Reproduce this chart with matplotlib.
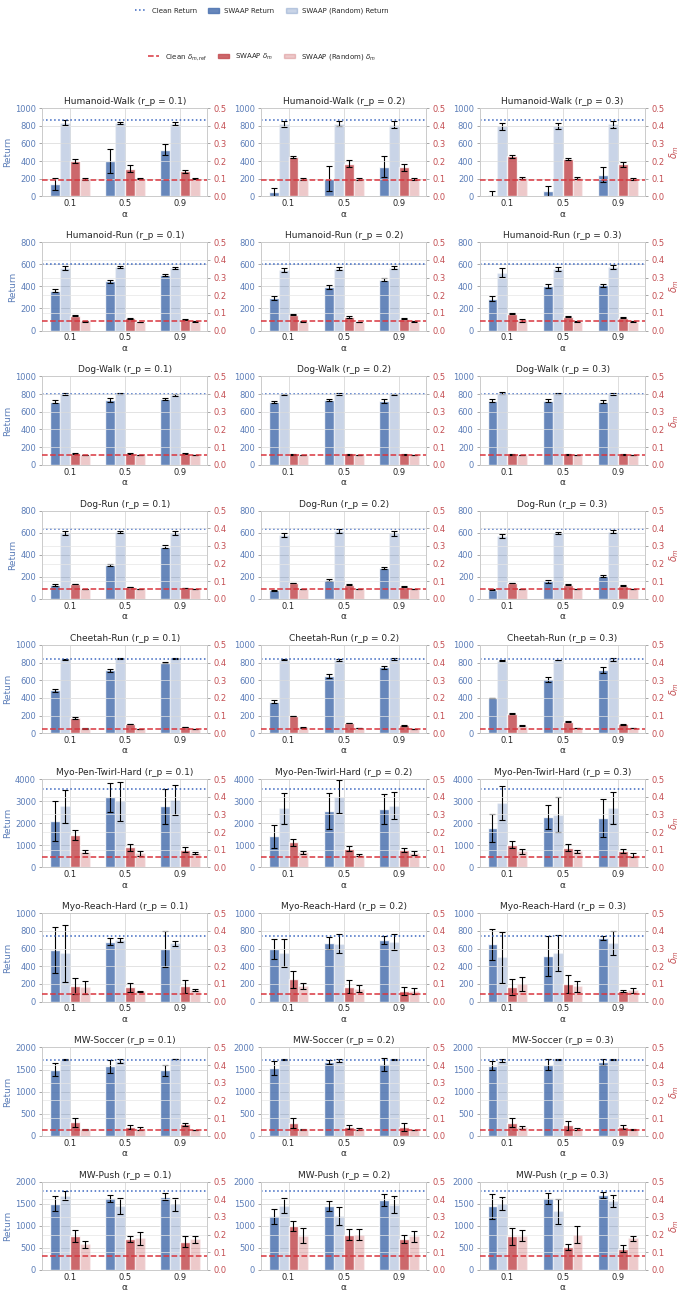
import numpy as np
import matplotlib.pyplot as plt
import seaborn as sns
from matplotlib.lines import Line2D
from matplotlib.patches import Patch

sns.set_theme(style="whitegrid")
plt.rcParams['font.family'] = ['DejaVu Sans']

BLUE = '#4C72B0'
RED = '#C44E52'

tasks = ['Humanoid-Walk', 'Humanoid-Run', 'Dog-Walk', 'Dog-Run', 'Cheetah-Run',
         'Myo-Pen-Twirl-Hard', 'Myo-Reach-Hard', 'MW-Soccer', 'MW-Push']
rps = [0.1, 0.2, 0.3]
alphas = ['0.1', '0.5', '0.9']
ret_max = [1000, 800, 1000, 800, 1000, 4000, 1000, 2000, 2000]
clean_ret = [868, 605, 800, 630, 835, 3560, 740, 1725, 1787]
clean_delta = [0.092, 0.052, 0.056, 0.055, 0.025, 0.057, 0.042, 0.032, 0.08]

# one row per r_p, one value per alpha
swaap_ret = {
    'Humanoid-Walk': [[143, 396, 528], [49, 200, 335], [19, 57, 245]],
    'Humanoid-Run': [[360, 445, 505], [295, 395, 460], [290, 405, 410]],
    'Dog-Walk': [[715, 735, 745], [710, 730, 720], [725, 725, 715]],
    'Dog-Run': [[125, 310, 475], [80, 170, 280], [85, 160, 210]],
    'Cheetah-Run': [[485, 710, 800], [355, 650, 745], [398, 610, 715]],
    'Myo-Pen-Twirl-Hard': [[2100, 3180, 2760], [1400, 2560, 2640], [1790, 2280, 2240]],
    'Myo-Reach-Hard': [[583, 680, 595], [595, 665, 697], [651, 515, 720]],
    'MW-Soccer': [[1500, 1570, 1480], [1530, 1667, 1615], [1590, 1610, 1667]],
    'MW-Push': [[1505, 1620, 1658], [1220, 1450, 1590], [1440, 1620, 1700]],
}
swaap_ret_err = {
    'Humanoid-Walk': [[70, 135, 60], [45, 140, 120], [40, 60, 85]],
    'Humanoid-Run': [[15, 12, 12], [15, 20, 12], [20, 15, 15]],
    'Dog-Walk': [[15, 20, 15], [15, 12, 20], [15, 15, 20]],
    'Dog-Run': [[8, 10, 15], [5, 8, 10], [5, 12, 10]],
    'Cheetah-Run': [[15, 12, 5], [18, 20, 15], [5, 25, 35]],
    'Myo-Pen-Twirl-Hard': [[900, 650, 800], [530, 800, 680], [650, 550, 850]],
    'Myo-Reach-Hard': [[265, 40, 200], [115, 70, 45], [175, 230, 25]],
    'MW-Soccer': [[150, 140, 115], [160, 45, 145], [100, 125, 70]],
    'MW-Push': [[180, 85, 80], [170, 120, 130], [280, 120, 60]],
}
rand_ret = {
    'Humanoid-Walk': [[834, 834, 823], [823, 823, 811], [796, 796, 819]],
    'Humanoid-Run': [[565, 578, 568], [550, 560, 570], [525, 560, 575]],
    'Dog-Walk': [[800, 810, 790], [800, 800, 800], [815, 810, 800]],
    'Dog-Run': [[600, 610, 600], [580, 615, 595], [570, 595, 610]],
    'Cheetah-Run': [[835, 845, 850], [832, 830, 840], [820, 830, 835]],
    'Myo-Pen-Twirl-Hard': [[2760, 2990, 3050], [2680, 3200, 2800], [2920, 2390, 2700]],
    'Myo-Reach-Hard': [[545, 697, 660], [550, 655, 670], [500, 550, 665]],
    'MW-Soccer': [[1727, 1690, 1735], [1725, 1705, 1725], [1705, 1725, 1725]],
    'MW-Push': [[1680, 1452, 1490], [1460, 1230, 1480], [1500, 1330, 1560]],
}
rand_ret_err = {
    'Humanoid-Walk': [[30, 12, 20], [35, 25, 40], [40, 30, 40]],
    'Humanoid-Run': [[20, 8, 10], [20, 15, 15], [40, 20, 15]],
    'Dog-Walk': [[8, 6, 8], [5, 8, 6], [10, 8, 12]],
    'Dog-Run': [[20, 10, 20], [15, 15, 20], [20, 10, 15]],
    'Cheetah-Run': [[5, 3, 5], [3, 12, 8], [8, 3, 18]],
    'Myo-Pen-Twirl-Hard': [[750, 870, 660], [700, 750, 620], [780, 800, 730]],
    'Myo-Reach-Hard': [[320, 25, 25], [160, 110, 90], [290, 200, 135]],
    'MW-Soccer': [[5, 45, 5], [5, 35, 10], [35, 5, 5]],
    'MW-Push': [[105, 180, 150], [160, 200, 200], [150, 280, 130]],
}
swaap_d = {
    'Humanoid-Walk': [[0.198, 0.157, 0.142], [0.223, 0.185, 0.166], [0.226, 0.213, 0.181]],
    'Humanoid-Run': [[0.085, 0.070, 0.062], [0.090, 0.076, 0.066], [0.095, 0.078, 0.073]],
    'Dog-Walk': [[0.063, 0.063, 0.062], [0.060, 0.060, 0.060], [0.060, 0.060, 0.060]],
    'Dog-Run': [[0.085, 0.068, 0.062], [0.090, 0.080, 0.070], [0.090, 0.080, 0.075]],
    'Cheetah-Run': [[0.085, 0.052, 0.035], [0.097, 0.058, 0.045], [0.110, 0.065, 0.050]],
    'Myo-Pen-Twirl-Hard': [[0.183, 0.113, 0.100], [0.142, 0.106, 0.098], [0.128, 0.110, 0.092]],
    'Myo-Reach-Hard': [[0.087, 0.080, 0.087], [0.125, 0.085, 0.060], [0.080, 0.098, 0.060]],
    'MW-Soccer': [[0.076, 0.051, 0.064], [0.072, 0.049, 0.051], [0.074, 0.060, 0.051]],
    'MW-Push': [[0.192, 0.173, 0.160], [0.250, 0.200, 0.175], [0.190, 0.130, 0.120]],
}
swaap_d_err = {
    'Humanoid-Walk': [[0.011, 0.020, 0.007], [0.008, 0.020, 0.020], [0.006, 0.007, 0.012]],
    'Humanoid-Run': [[0.004, 0.003, 0.003], [0.003, 0.004, 0.003], [0.003, 0.003, 0.003]],
    'Dog-Walk': [[0.002, 0.002, 0.002], [0.002, 0.002, 0.002], [0.002, 0.002, 0.002]],
    'Dog-Run': [[0.002, 0.002, 0.002], [0.002, 0.002, 0.002], [0.002, 0.002, 0.002]],
    'Cheetah-Run': [[0.005, 0.002, 0.002], [0.002, 0.002, 0.002], [0.002, 0.003, 0.004]],
    'Myo-Pen-Twirl-Hard': [[0.026, 0.020, 0.013], [0.020, 0.015, 0.012], [0.020, 0.020, 0.012]],
    'Myo-Reach-Hard': [[0.045, 0.023, 0.037], [0.050, 0.035, 0.020], [0.045, 0.050, 0.008]],
    'MW-Soccer': [[0.025, 0.012, 0.008], [0.030, 0.010, 0.023], [0.025, 0.025, 0.012]],
    'MW-Push': [[0.036, 0.017, 0.030], [0.030, 0.030, 0.025], [0.050, 0.015, 0.020]],
}
rand_d = {
    'Humanoid-Walk': [[0.100, 0.100, 0.100], [0.100, 0.100, 0.100], [0.104, 0.104, 0.100]],
    'Humanoid-Run': [[0.052, 0.048, 0.050], [0.050, 0.048, 0.050], [0.058, 0.050, 0.050]],
    'Dog-Walk': [[0.055, 0.055, 0.055], [0.055, 0.055, 0.055], [0.055, 0.055, 0.055]],
    'Dog-Run': [[0.055, 0.055, 0.055], [0.055, 0.055, 0.055], [0.055, 0.055, 0.055]],
    'Cheetah-Run': [[0.027, 0.025, 0.024], [0.033, 0.029, 0.025], [0.042, 0.030, 0.029]],
    'Myo-Pen-Twirl-Hard': [[0.089, 0.079, 0.079], [0.085, 0.070, 0.081], [0.090, 0.090, 0.072]],
    'Myo-Reach-Hard': [[0.081, 0.059, 0.066], [0.089, 0.074, 0.060], [0.100, 0.087, 0.063]],
    'MW-Soccer': [[0.036, 0.040, 0.032], [0.036, 0.038, 0.032], [0.047, 0.038, 0.036]],
    'MW-Push': [[0.145, 0.179, 0.173], [0.195, 0.200, 0.190], [0.195, 0.200, 0.180]],
}
rand_d_err = {
    'Humanoid-Walk': [[0.005, 0.002, 0.002], [0.005, 0.005, 0.005], [0.004, 0.004, 0.005]],
    'Humanoid-Run': [[0.003, 0.002, 0.002], [0.003, 0.002, 0.002], [0.008, 0.003, 0.002]],
    'Dog-Walk': [[0.001, 0.001, 0.001], [0.001, 0.001, 0.001], [0.001, 0.001, 0.001]],
    'Dog-Run': [[0.001, 0.001, 0.001], [0.001, 0.001, 0.001], [0.001, 0.001, 0.001]],
    'Cheetah-Run': [[0.001, 0.001, 0.001], [0.002, 0.002, 0.001], [0.002, 0.001, 0.001]],
    'Myo-Pen-Twirl-Hard': [[0.010, 0.013, 0.006], [0.010, 0.008, 0.012], [0.015, 0.010, 0.012]],
    'Myo-Reach-Hard': [[0.038, 0.003, 0.006], [0.018, 0.018, 0.015], [0.040, 0.030, 0.015]],
    'MW-Soccer': [[0.003, 0.010, 0.002], [0.003, 0.008, 0.002], [0.010, 0.006, 0.003]],
    'MW-Push': [[0.020, 0.035, 0.020], [0.040, 0.030, 0.030], [0.030, 0.050, 0.015]],
}

fig, axes = plt.subplots(len(tasks), 3, figsize=(6.82, 13.02), dpi=100)
fig.subplots_adjust(left=0.062, right=0.946, top=0.917, bottom=0.0246,
                    wspace=0.325, hspace=0.52)

x = np.arange(len(alphas))
w = 0.18
err_kw = dict(ecolor='black', elinewidth=0.8, capsize=2, capthick=0.8)

for i, task in enumerate(tasks):
    for j, rp in enumerate(rps):
        ax = axes[i, j]
        ax2 = ax.twinx()

        ax.bar(x - 1.5 * w, swaap_ret[task][j], w, yerr=swaap_ret_err[task][j],
               color=BLUE, alpha=0.85, error_kw=err_kw, zorder=2)
        ax.bar(x - 0.5 * w, rand_ret[task][j], w, yerr=rand_ret_err[task][j],
               color=BLUE, alpha=0.3, error_kw=err_kw, zorder=2)
        ax.axhline(clean_ret[i], color='#3A66C0', linestyle=':', linewidth=1.1, zorder=3)

        ax2.bar(x + 0.5 * w, swaap_d[task][j], w, yerr=swaap_d_err[task][j],
                color=RED, alpha=0.85, error_kw=err_kw, zorder=2)
        ax2.bar(x + 1.5 * w, rand_d[task][j], w, yerr=rand_d_err[task][j],
                color=RED, alpha=0.3, error_kw=err_kw, zorder=2)
        ax2.axhline(clean_delta[i], color='#D9363E', linestyle='--', linewidth=1.1, zorder=3)

        ax.set_ylim(0, ret_max[i])
        ax2.set_ylim(0, 0.5)
        ax.set_xticks(x)
        ax.set_xticklabels(alphas)
        ax.set_title(f'{task} (r_p = {rp})', fontsize=6.5, pad=3)
        ax.set_xlabel('α', fontsize=6.5, labelpad=1)

        ax.tick_params(axis='x', labelsize=6, pad=2, length=0)
        ax.tick_params(axis='y', labelsize=6, colors='#5B7DB8', left=True,
                       length=2.5, width=0.6, pad=2)
        ax2.tick_params(axis='y', labelsize=6, colors='#C44E52', right=True,
                        length=2.5, width=0.6, pad=2)
        ax.tick_params(axis='y', color='#999999')
        ax2.tick_params(axis='y', color='#999999')
        ax2.set_yticks([0, 0.1, 0.2, 0.3, 0.4, 0.5])

        ax.grid(True, linewidth=0.7, color='#dddddd')
        ax2.grid(True, linewidth=0.5, color='#e6e6e6')
        ax.set_axisbelow(True)
        for a in (ax, ax2):
            for s in a.spines.values():
                s.set_color('#cccccc')
                s.set_linewidth(0.7)

        if j == 0:
            ax.set_ylabel('Return', fontsize=6.5, color='#5B7DB8', labelpad=2)
        if j == 2:
            ax2.set_ylabel(r'$\delta_m$', fontsize=7, color=RED, labelpad=2)

top_handles = [
    Line2D([0], [0], color='#3A66C0', linestyle=':', linewidth=1.1),
    Patch(color=BLUE, alpha=0.85),
    Patch(color=BLUE, alpha=0.3),
]
top_labels = ['Clean Return', 'SWAAP Return', 'SWAAP (Random) Return']
bot_handles = [
    Line2D([0], [0], color='#D9363E', linestyle='--', linewidth=1.1),
    Patch(color=RED, alpha=0.85),
    Patch(color=RED, alpha=0.3),
]
bot_labels = [r'Clean $\delta_{m,\mathrm{ref}}$', r'SWAAP $\delta_m$',
              r'SWAAP (Random) $\delta_m$']
fig.legend(top_handles, top_labels, loc='center', bbox_to_anchor=(0.384, 0.9915),
           ncol=3, frameon=False, fontsize=5, handlelength=1.6, columnspacing=1.6)
fig.legend(bot_handles, bot_labels, loc='center', bbox_to_anchor=(0.384, 0.9565),
           ncol=3, frameon=False, fontsize=5, handlelength=1.6, columnspacing=1.6)

fig.savefig('out.png', dpi=100)
